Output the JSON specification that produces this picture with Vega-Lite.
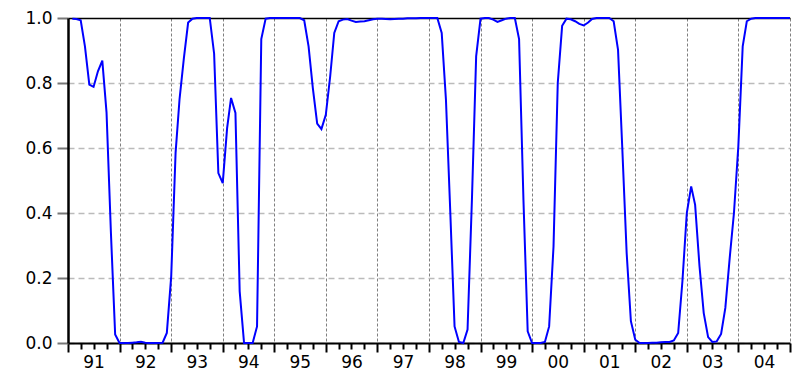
{
  "$schema": "https://vega.github.io/schema/vega-lite/v6.json",
  "width": 722,
  "height": 325,
  "autosize": {"type": "none"},
  "padding": {"left": 68, "top": 18, "right": 2, "bottom": 29},
  "background": "white",
  "config": {"view": {"stroke": null}, "font": "DejaVu Sans"},
  "data": {"values": [
    {"date": "1991-02-01", "p": 0.998}, {"date": "1991-03-01", "p": 0.997}, {"date": "1991-04-01", "p": 0.993}, {"date": "1991-05-01", "p": 0.913},
    {"date": "1991-06-01", "p": 0.795}, {"date": "1991-07-01", "p": 0.788}, {"date": "1991-08-01", "p": 0.836}, {"date": "1991-09-01", "p": 0.869},
    {"date": "1991-10-01", "p": 0.709}, {"date": "1991-11-01", "p": 0.339}, {"date": "1991-12-01", "p": 0.026}, {"date": "1992-01-01", "p": 0.0},
    {"date": "1992-02-01", "p": 0.0}, {"date": "1992-03-01", "p": 0.0}, {"date": "1992-04-01", "p": 0.001}, {"date": "1992-05-01", "p": 0.002},
    {"date": "1992-06-01", "p": 0.004}, {"date": "1992-07-01", "p": 0.001}, {"date": "1992-08-01", "p": 0.0}, {"date": "1992-09-01", "p": 0.0},
    {"date": "1992-10-01", "p": 0.0}, {"date": "1992-11-01", "p": 0.001}, {"date": "1992-12-01", "p": 0.031}, {"date": "1993-01-01", "p": 0.205},
    {"date": "1993-02-01", "p": 0.585}, {"date": "1993-03-01", "p": 0.75}, {"date": "1993-04-01", "p": 0.877}, {"date": "1993-05-01", "p": 0.986},
    {"date": "1993-06-01", "p": 0.998}, {"date": "1993-07-01", "p": 1.0}, {"date": "1993-08-01", "p": 1.0}, {"date": "1993-09-01", "p": 1.0},
    {"date": "1993-10-01", "p": 1.0}, {"date": "1993-11-01", "p": 0.89}, {"date": "1993-12-01", "p": 0.523}, {"date": "1994-01-01", "p": 0.492},
    {"date": "1994-02-01", "p": 0.661}, {"date": "1994-03-01", "p": 0.754}, {"date": "1994-04-01", "p": 0.708}, {"date": "1994-05-01", "p": 0.159},
    {"date": "1994-06-01", "p": 0.0}, {"date": "1994-07-01", "p": 0.0}, {"date": "1994-08-01", "p": 0.0}, {"date": "1994-09-01", "p": 0.051},
    {"date": "1994-10-01", "p": 0.935}, {"date": "1994-11-01", "p": 0.998}, {"date": "1994-12-01", "p": 1.0}, {"date": "1995-01-01", "p": 1.0},
    {"date": "1995-02-01", "p": 1.0}, {"date": "1995-03-01", "p": 1.0}, {"date": "1995-04-01", "p": 1.0}, {"date": "1995-05-01", "p": 1.0},
    {"date": "1995-06-01", "p": 1.0}, {"date": "1995-07-01", "p": 1.0}, {"date": "1995-08-01", "p": 0.993}, {"date": "1995-09-01", "p": 0.913},
    {"date": "1995-10-01", "p": 0.785}, {"date": "1995-11-01", "p": 0.675}, {"date": "1995-12-01", "p": 0.658}, {"date": "1996-01-01", "p": 0.702},
    {"date": "1996-02-01", "p": 0.82}, {"date": "1996-03-01", "p": 0.954}, {"date": "1996-04-01", "p": 0.99}, {"date": "1996-05-01", "p": 0.995},
    {"date": "1996-06-01", "p": 0.997}, {"date": "1996-07-01", "p": 0.992}, {"date": "1996-08-01", "p": 0.988}, {"date": "1996-09-01", "p": 0.989},
    {"date": "1996-10-01", "p": 0.99}, {"date": "1996-11-01", "p": 0.993}, {"date": "1996-12-01", "p": 0.996}, {"date": "1997-01-01", "p": 0.998},
    {"date": "1997-02-01", "p": 0.998}, {"date": "1997-03-01", "p": 0.997}, {"date": "1997-04-01", "p": 0.996}, {"date": "1997-05-01", "p": 0.997},
    {"date": "1997-06-01", "p": 0.998}, {"date": "1997-07-01", "p": 0.998}, {"date": "1997-08-01", "p": 0.999}, {"date": "1997-09-01", "p": 0.999},
    {"date": "1997-10-01", "p": 0.999}, {"date": "1997-11-01", "p": 1.0}, {"date": "1997-12-01", "p": 1.0}, {"date": "1998-01-01", "p": 1.0},
    {"date": "1998-02-01", "p": 1.0}, {"date": "1998-03-01", "p": 1.0}, {"date": "1998-04-01", "p": 0.954}, {"date": "1998-05-01", "p": 0.749},
    {"date": "1998-06-01", "p": 0.4}, {"date": "1998-07-01", "p": 0.051}, {"date": "1998-08-01", "p": 0.003}, {"date": "1998-09-01", "p": 0.0},
    {"date": "1998-10-01", "p": 0.041}, {"date": "1998-11-01", "p": 0.441}, {"date": "1998-12-01", "p": 0.882}, {"date": "1999-01-01", "p": 0.998},
    {"date": "1999-02-01", "p": 1.0}, {"date": "1999-03-01", "p": 1.0}, {"date": "1999-04-01", "p": 0.995}, {"date": "1999-05-01", "p": 0.988},
    {"date": "1999-06-01", "p": 0.993}, {"date": "1999-07-01", "p": 0.998}, {"date": "1999-08-01", "p": 1.0}, {"date": "1999-09-01", "p": 1.0},
    {"date": "1999-10-01", "p": 0.935}, {"date": "1999-11-01", "p": 0.44}, {"date": "1999-12-01", "p": 0.036}, {"date": "2000-01-01", "p": 0.0},
    {"date": "2000-02-01", "p": 0.0}, {"date": "2000-03-01", "p": 0.0}, {"date": "2000-04-01", "p": 0.003}, {"date": "2000-05-01", "p": 0.051},
    {"date": "2000-06-01", "p": 0.297}, {"date": "2000-07-01", "p": 0.8}, {"date": "2000-08-01", "p": 0.976}, {"date": "2000-09-01", "p": 0.998},
    {"date": "2000-10-01", "p": 0.996}, {"date": "2000-11-01", "p": 0.99}, {"date": "2000-12-01", "p": 0.982}, {"date": "2001-01-01", "p": 0.977},
    {"date": "2001-02-01", "p": 0.986}, {"date": "2001-03-01", "p": 0.997}, {"date": "2001-04-01", "p": 1.0}, {"date": "2001-05-01", "p": 1.0},
    {"date": "2001-06-01", "p": 1.0}, {"date": "2001-07-01", "p": 1.0}, {"date": "2001-08-01", "p": 0.99}, {"date": "2001-09-01", "p": 0.902},
    {"date": "2001-10-01", "p": 0.6}, {"date": "2001-11-01", "p": 0.277}, {"date": "2001-12-01", "p": 0.067}, {"date": "2002-01-01", "p": 0.01},
    {"date": "2002-02-01", "p": 0.0}, {"date": "2002-03-01", "p": 0.0}, {"date": "2002-04-01", "p": 0.0}, {"date": "2002-05-01", "p": 0.001},
    {"date": "2002-06-01", "p": 0.001}, {"date": "2002-07-01", "p": 0.002}, {"date": "2002-08-01", "p": 0.003}, {"date": "2002-09-01", "p": 0.003},
    {"date": "2002-10-01", "p": 0.008}, {"date": "2002-11-01", "p": 0.031}, {"date": "2002-12-01", "p": 0.19}, {"date": "2003-01-01", "p": 0.4},
    {"date": "2003-02-01", "p": 0.482}, {"date": "2003-03-01", "p": 0.425}, {"date": "2003-04-01", "p": 0.236}, {"date": "2003-05-01", "p": 0.092},
    {"date": "2003-06-01", "p": 0.018}, {"date": "2003-07-01", "p": 0.003}, {"date": "2003-08-01", "p": 0.005}, {"date": "2003-09-01", "p": 0.028},
    {"date": "2003-10-01", "p": 0.108}, {"date": "2003-11-01", "p": 0.262}, {"date": "2003-12-01", "p": 0.4}, {"date": "2004-01-01", "p": 0.605},
    {"date": "2004-02-01", "p": 0.913}, {"date": "2004-03-01", "p": 0.99}, {"date": "2004-04-01", "p": 0.998}, {"date": "2004-05-01", "p": 1.0},
    {"date": "2004-06-01", "p": 1.0}, {"date": "2004-07-01", "p": 1.0}, {"date": "2004-08-01", "p": 1.0}, {"date": "2004-09-01", "p": 1.0},
    {"date": "2004-10-01", "p": 1.0}, {"date": "2004-11-01", "p": 1.0}, {"date": "2004-12-01", "p": 1.0}, {"date": "2005-01-01", "p": 1.0}
  ]},
  "mark": {"type": "line", "color": "#0000ff", "strokeWidth": 2, "clip": false},
  "encoding": {
    "x": {
      "field": "date",
      "type": "temporal",
      "scale": {
        "type": "utc",
        "domain": [{"year": 1991, "month": 1, "date": 1, "utc": true}, {"year": 2005, "month": 1, "date": 1, "utc": true}],
        "nice": false
      },
      "axis": {
        "title": null,
        "tickCount": {"interval": "month", "step": 3},
        "domainColor": "black",
        "domainWidth": 2,
        "tickColor": "black",
        "tickWidth": 2,
        "tickSize": {"condition": {"test": "utcmonth(datum.value) === 0", "value": 9}, "value": 6},
        "grid": true,
        "gridColor": "#808080",
        "gridDash": [3, 2],
        "gridWidth": 1,
        "gridOpacity": {"condition": {"test": "utcmonth(datum.value) === 0", "value": 1}, "value": 0},
        "labelExpr": "utcmonth(datum.value) === 6 ? utcFormat(datum.value, '%y') : ''",
        "labelAlign": "center",
        "labelBaseline": "top",
        "labelPadding": 5,
        "labelFontSize": 17,
        "labelFont": "DejaVu Sans",
        "labelColor": "black",
        "labelOverlap": false,
        "labelFlush": false,
        "labelBound": false
      }
    },
    "y": {
      "field": "p",
      "type": "quantitative",
      "scale": {"domain": [0, 1], "nice": false},
      "axis": {
        "title": null,
        "values": [0, 0.2, 0.4, 0.6, 0.8, 1],
        "format": ".1f",
        "domainColor": "black",
        "domainWidth": 2.5,
        "tickColor": "#777777",
        "tickWidth": 2,
        "tickSize": 11,
        "labelPadding": 5,
        "labelFontSize": 17,
        "labelFont": "DejaVu Sans",
        "labelColor": "black",
        "labelBaseline": "middle",
        "grid": true,
        "gridColor": {"condition": {"test": "datum.value === 1", "value": "black"}, "value": "#bbbbbb"},
        "gridDash": {"condition": {"test": "datum.value === 1", "value": []}, "value": [6, 4]},
        "gridWidth": 1.5
      }
    }
  }
}
